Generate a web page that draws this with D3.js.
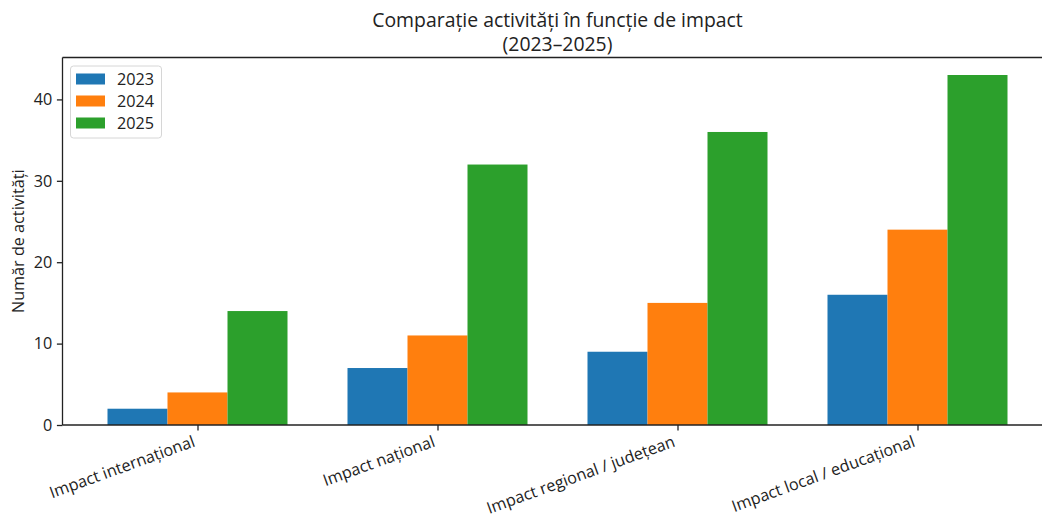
<!DOCTYPE html>
<html>
<head>
<meta charset="utf-8">
<script src="https://cdn.jsdelivr.net/npm/d3@7"></script>
<style>
  body { margin: 0; background: #fff; }
  svg { display: block; font-family: "Open Sans", sans-serif; }
</style>
</head>
<body>
<div id="container"></div>
<script>
// data
const categories = ["Impact internațional", "Impact național", "Impact regional / județean", "Impact local / educațional"];
const years = ["2023", "2024", "2025"];
const values2023 = [2, 7, 9, 16];
const values2024 = [4, 11, 15, 24];
const values2025 = [14, 32, 36, 43];
const yTicks = [0, 10, 20, 30, 40];

const series = [values2023, values2024, values2025];
const colors = ["#1f77b4", "#ff7f0e", "#2ca02c"];

const width = 1042;
const height = 516;
const marginLeft = 62.5;
const marginTop = 57.5;
const plotBottom = 425;
const plotRight = 1052.5; // right spine falls outside the window
const barWidth = 0.25;
const fontSize = 16.2;
const titleSize = 19.4;
const tickLen = 5.6;
const lineW = 1.3;

const svg = d3.select("#container")
  .append("svg")
  .attr("width", width)
  .attr("height", height);

// matplotlib-like limits: 5% margins around bars
const xMin = -0.375, xMax = categories.length - 1 + 0.375;
const xPad = (xMax - xMin) * 0.05;
const x = d3.scaleLinear()
  .domain([xMin - xPad, xMax + xPad])
  .range([marginLeft, plotRight]);

const yMax = d3.max(series.flat()) * 1.05;
const y = d3.scaleLinear()
  .domain([0, yMax])
  .range([plotBottom, marginTop]);

// bars
series.forEach((vals, j) => {
  svg.append("g")
    .attr("fill", colors[j])
    .selectAll("rect")
    .data(vals)
    .join("rect")
    .attr("x", (d, i) => x(i + (j - 1) * barWidth - barWidth / 2))
    .attr("width", (d, i) => x(i + (j - 1) * barWidth + barWidth / 2) - x(i + (j - 1) * barWidth - barWidth / 2))
    .attr("y", d => y(d))
    .attr("height", d => y(0) - y(d));
});

// y axis
const yAxis = svg.append("g")
  .attr("transform", `translate(${marginLeft},0)`)
  .call(d3.axisLeft(y).tickValues(yTicks).tickSize(tickLen).tickPadding(4.6))
  .call(g => g.select(".domain").remove());
yAxis.selectAll("line").attr("stroke", "#222").attr("stroke-width", lineW);
yAxis.selectAll("text").attr("font-size", fontSize).attr("fill", "#222")
  .attr("font-family", "Open Sans");

// x axis
const xAxis = svg.append("g")
  .attr("transform", `translate(0,${plotBottom})`)
  .call(d3.axisBottom(x).tickValues(d3.range(categories.length)).tickSize(tickLen).tickFormat(i => categories[i]))
  .call(g => g.select(".domain").remove());
xAxis.selectAll("line").attr("stroke", "#222").attr("stroke-width", lineW);
xAxis.selectAll("text")
  .attr("font-size", fontSize)
  .attr("fill", "#222")
  .attr("font-family", "Open Sans")
  .attr("text-anchor", "end")
  .attr("y", 0)
  .attr("dy", 0)
  .attr("transform", "translate(-2,21) rotate(-20)");

// spines: left, bottom, top (right is cut off)
const spine = svg.append("g").attr("stroke", "#222").attr("stroke-width", lineW).attr("fill", "none");
spine.append("line").attr("x1", marginLeft).attr("x2", marginLeft).attr("y1", marginTop).attr("y2", plotBottom);
spine.append("line").attr("x1", marginLeft).attr("x2", plotRight).attr("y1", plotBottom).attr("y2", plotBottom);
spine.append("line").attr("x1", marginLeft).attr("x2", plotRight).attr("y1", marginTop).attr("y2", marginTop);

// title, two lines
const titleX = (marginLeft + plotRight) / 2;
svg.append("text")
  .attr("x", titleX).attr("y", 27)
  .attr("text-anchor", "middle")
  .attr("font-size", titleSize)
  .attr("fill", "#222")
  .text("Comparație activități în funcție de impact");
svg.append("text")
  .attr("x", titleX).attr("y", 50.5)
  .attr("text-anchor", "middle")
  .attr("font-size", titleSize)
  .attr("fill", "#222")
  .text("(2023–2025)");

// y label
svg.append("text")
  .attr("transform", `translate(24,${(marginTop + plotBottom) / 2}) rotate(-90)`)
  .attr("text-anchor", "middle")
  .attr("font-size", fontSize)
  .attr("fill", "#222")
  .text("Număr de activități");

// legend
const legend = svg.append("g").attr("transform", "translate(70.5,66)");
legend.append("rect")
  .attr("width", 91).attr("height", 72)
  .attr("rx", 3)
  .attr("fill", "#fff").attr("fill-opacity", 0.8)
  .attr("stroke", "#d6d6d6");
years.forEach((yr, j) => {
  const row = legend.append("g").attr("transform", `translate(0,${13 + j * 22})`);
  row.append("rect")
    .attr("x", 5.5).attr("y", -5.5)
    .attr("width", 29).attr("height", 11)
    .attr("fill", colors[j]);
  row.append("text")
    .attr("x", 46.5).attr("y", 5.8)
    .attr("font-size", fontSize)
    .attr("fill", "#222")
    .text(yr);
});
</script>
</body>
</html>
